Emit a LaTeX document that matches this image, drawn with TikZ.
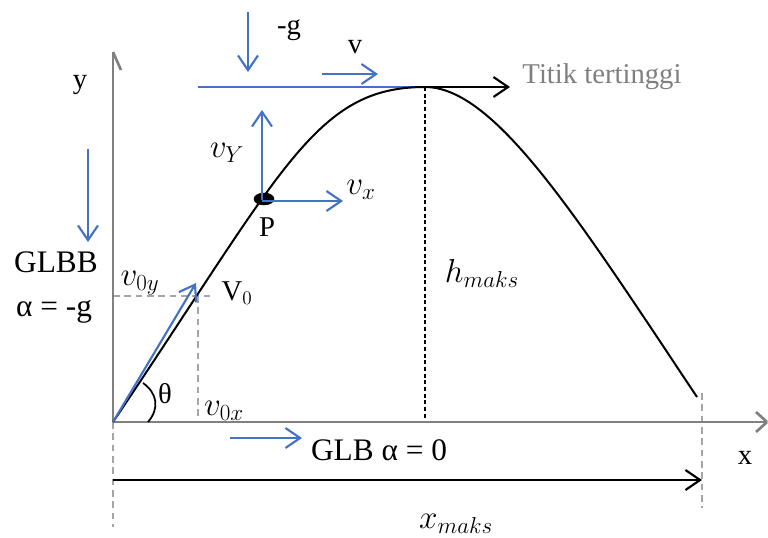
\documentclass[tikz,border=0pt]{standalone}
\usepackage{fontspec}
\setmainfont{Liberation Serif}
\usetikzlibrary{arrows.meta,shapes.geometric}
\definecolor{obl}{RGB}{68,114,196}
\definecolor{axg}{RGB}{128,128,128}
\definecolor{dg}{RGB}{165,165,165}
\definecolor{tg}{RGB}{127,127,127}
\tikzset{
  lbl/.style={inner sep=0pt, font=\fontsize{21.5}{24}\selectfont},
  biglbl/.style={inner sep=0pt, font=\fontsize{23.5}{26}\selectfont},
  mlbl/.style={inner sep=0pt, font=\fontsize{26.5}{29}\selectfont},
  bluearr/.style={draw=obl, line width=1.6pt, -{Straight Barb[length=11pt,width=15pt,line width=1.6pt]}},
  blackarr/.style={draw=black, line width=1.6pt, -{Straight Barb[length=11pt,width=15pt,line width=1.6pt]}},
  axisline/.style={draw=axg, line width=2pt},
  guide/.style={draw=dg, line width=1.1pt, dash pattern=on 5pt off 3.5pt},
  hguide/.style={draw=black, line width=1.1pt, dash pattern=on 3pt off 2pt},
  curveline/.style={draw=black, line width=1.5pt},
}
\begin{document}
\begin{tikzpicture}[x=0.75pt,y=-0.75pt]
\useasboundingbox (0,0) rectangle (768,537);
% key points
\coordinate (O) at (113,422);
\coordinate (Ytop) at (113,52);
\coordinate (Xend) at (767,422);
\coordinate (Peak) at (425,87);
\coordinate (End) at (697,397);
\coordinate (V0tip) at (196,283);
\coordinate (HL) at (198,87);
\coordinate (HB) at (425,420);
% guides
\coordinate (G1a) at (113,296); \coordinate (G1b) at (213,296);
\coordinate (G2a) at (198,296); \coordinate (G2b) at (198,422);
\coordinate (G3b) at (113,527);
\coordinate (G4a) at (702,393); \coordinate (G4b) at (702,508);
\draw[guide] (G1a) -- (G1b);
\draw[guide] (G2a) -- (G2b);
\draw[guide] (O) -- (G3b);
\draw[guide] (G4a) -- (G4b);
\draw[hguide] (Peak) -- (HB);
% axes
\draw[axisline] (O) -- (Ytop);
\draw[axisline] (Ytop) -- ++(8,18);
\draw[axisline] (O) -- (Xend);
\draw[axisline] (Xend) -- ++(-11,-10);
\draw[axisline] (Xend) -- ++(-11,10);
% horizontal blue line at top
\draw[draw=obl, line width=1.3pt] (HL) -- (Peak);
% trajectory
\draw[curveline] (O) .. controls (283,170) and (315,87) .. (Peak)
                 .. controls (495,87) and (577,217) .. (End);
% point P
\node[draw, fill=black, ellipse, minimum width=15pt, minimum height=9pt, inner sep=0pt] (P) at (264,199) {};
% arrows
\coordinate (g1) at (248,12); \coordinate (g2) at (248,72);
\draw[bluearr] (g1) -- (g2);
\coordinate (va) at (322,74); \coordinate (vb) at (378,74);
\draw[bluearr] (va) -- (vb);
\coordinate (gb1) at (88,149); \coordinate (gb2) at (88,242);
\draw[bluearr] (gb1) -- (gb2);
\coordinate (vy0) at (262,200); \coordinate (vy1) at (262,110);
\draw[bluearr] (vy0) -- (vy1);
\coordinate (vx0) at (262,201); \coordinate (vx1) at (343,201);
\draw[bluearr] (vx0) -- (vx1);
\draw[bluearr] (O) -- (V0tip);
\coordinate (glb0) at (230,438); \coordinate (glb1) at (302,438);
\draw[bluearr] (glb0) -- (glb1);
\coordinate (tt) at (510,87);
\draw[blackarr] (Peak) -- (tt);
\coordinate (xm0) at (113,480); \coordinate (xm1) at (702,480);
\draw[blackarr] (xm0) -- (xm1);
% angle arc
\coordinate (a0) at (148,422); \coordinate (a1) at (143,383);
\draw[black, line width=1.3pt] (a0) .. controls (160,408) and (157,393) .. (a1);
% labels
\node[lbl] (lg) at (289,30) {-g};
\node[lbl] (lv) at (355,47) {v};
\node[lbl] (ly) at (80,85) {y};
\node[lbl, text=tg] (ltt) at (602,77) {Titik tertinggi};
\node[mlbl] (lvy) at (227,153) {$v_Y$};
\node[mlbl] (lvx) at (361,190) {$v_x$};
\node[lbl] (lp) at (267,227) {P};
\node[biglbl] (lglbb) at (56,262) {GLBB};
\node[mlbl] (lh) at (482,273) {$h_{maks}$};
\node[mlbl] (lv0y) at (140,283) {$v_{0y}$};
\node[lbl] (lV0) at (237,293) {V$_0$};
\node[biglbl] (lal) at (54,312) {α = -g};
\node[lbl] (lth) at (165,394) {θ};
\node[mlbl] (lv0x) at (224,411) {$v_{0x}$};
\node[biglbl] (lglb) at (379,450) {GLB α = 0};
\node[lbl] (lx) at (745,458) {x};
\node[mlbl] (lxm) at (456,524) {$x_{maks}$};
\end{tikzpicture}
\end{document}
